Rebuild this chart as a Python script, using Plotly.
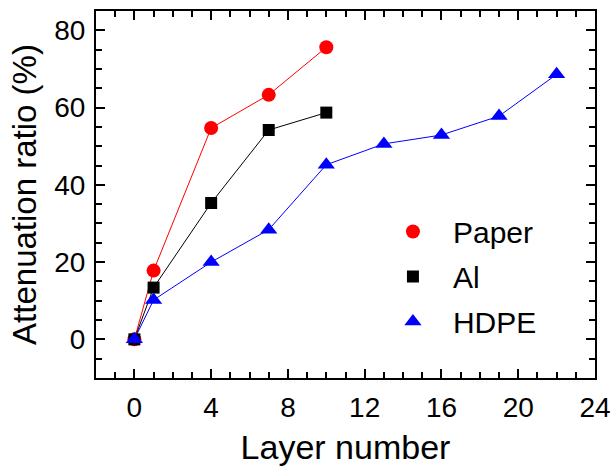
import plotly.graph_objects as go

paper_x = [0, 1, 4, 7, 10]
paper_y = [0, 17.8, 54.7, 63.3, 75.6]
al_x = [0, 1, 4, 7, 10]
al_y = [0, 13.4, 35.3, 54.2, 58.7]
hdpe_x = [0, 1, 4, 7, 10, 13, 16, 19, 22]
hdpe_y = [0, 10.2, 20.0, 28.4, 45.2, 50.6, 52.9, 57.8, 68.6]

series = [
    ("Paper", paper_x, paper_y, "red", "circle", 14),
    ("Al", al_x, al_y, "black", "square", 12),
    ("HDPE", hdpe_x, hdpe_y, "blue", "triangle-up", 15),
]

fig = go.Figure()
for name, xs, ys, col, sym, sz in series:
    fig.add_trace(go.Scatter(x=xs, y=ys, mode="lines", line=dict(color=col, width=1),
                             showlegend=False, hoverinfo="skip"))
for name, xs, ys, col, sym, sz in series:
    fig.add_trace(go.Scatter(x=xs, y=ys, mode="markers", name=name, legendgroup=name,
                             marker=dict(color=col, symbol=sym, size=sz, line=dict(width=0))))

font = "Liberation Sans, Arial, Helvetica, sans-serif"
axis_common = dict(
    showline=True, linecolor="black", linewidth=2, mirror="allticks",
    ticks="inside", ticklen=9, tickwidth=2, tickcolor="black",
    showgrid=False, zeroline=False, automargin=False,
    tickfont=dict(family=font, size=28, color="black"),
)
fig.update_xaxes(**axis_common, range=[-2, 24], tickmode="array",
                 tickvals=[0, 4, 8, 12, 16, 20, 24], ticklabelstandoff=3,
                 minor=dict(dtick=1, tick0=0, ticks="inside", ticklen=6, tickwidth=2, tickcolor="black"),
                 title=dict(text="Layer number", font=dict(family=font, size=34, color="black"), standoff=16))
fig.update_yaxes(**axis_common, range=[-10, 85], tickmode="array",
                 tickvals=[0, 20, 40, 60, 80], ticklabelstandoff=3,
                 minor=dict(dtick=5, tick0=0, ticks="inside", ticklen=6, tickwidth=2, tickcolor="black"),
                 title=dict(text="Attenuation ratio (%)", font=dict(family=font, size=33, color="black"), standoff=8))

fig.update_layout(
    width=611, height=466,
    margin=dict(l=96, r=16, t=11, b=88),
    plot_bgcolor="white", paper_bgcolor="white",
    font=dict(family=font, color="black"),
    legend=dict(x=0.555, y=0.47, xanchor="left", yanchor="top",
                font=dict(family=font, size=30, color="black"),
                bgcolor="rgba(0,0,0,0)", itemwidth=70, tracegroupgap=3,
                traceorder="grouped"),
)

fig.write_html(
    "out.html",
    config={"displayModeBar": False},
    post_script="document.body.style.margin='0';document.documentElement.style.overflow='hidden';",
)
